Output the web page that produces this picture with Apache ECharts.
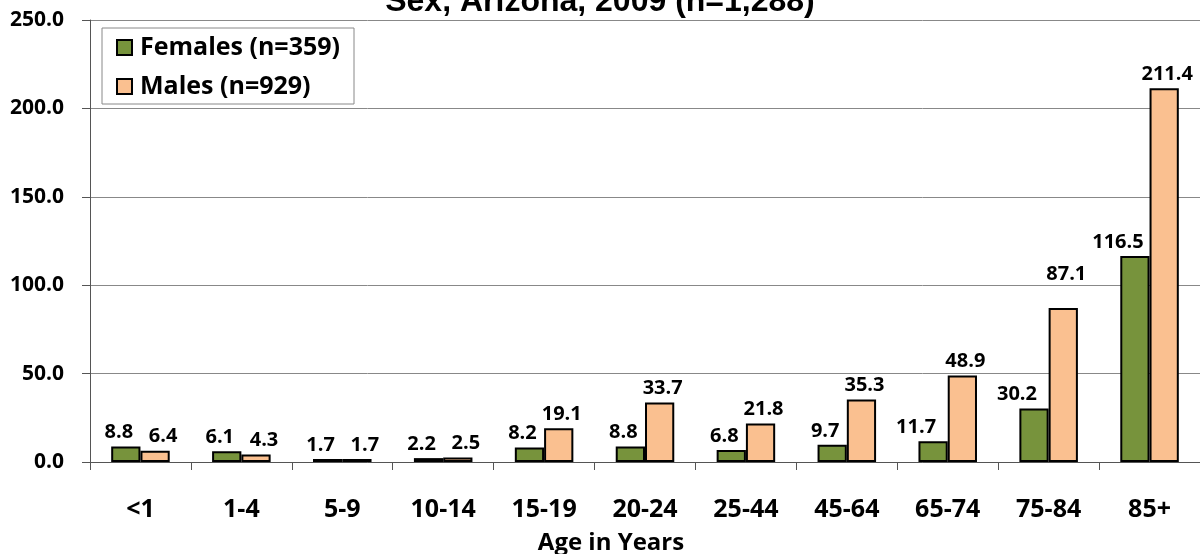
<!DOCTYPE html>
<html>
<head>
<meta charset="utf-8">
<script src="https://cdn.jsdelivr.net/npm/echarts@6/dist/echarts.min.js"></script>
<style>
html,body{margin:0;padding:0;background:#fff;}
#chart{width:1200px;height:554px;}
</style>
</head>
<body>
<div id="chart"></div>
<script>
// Age groups and rates per series
const ageGroups = ['<1', '1-4', '5-9', '10-14', '15-19', '20-24', '25-44', '45-64', '65-74', '75-84', '85+'];
const femaleRates = [8.8, 6.1, 1.7, 2.2, 8.2, 8.8, 6.8, 9.7, 11.7, 30.2, 116.5];
const maleRates = [6.4, 4.3, 1.7, 2.5, 19.1, 33.7, 21.8, 35.3, 48.9, 87.1, 211.4];
const seriesNames = ['Females (n=359)', 'Males (n=929)'];
const titleText = 'Sex, Arizona, 2009 (n=1,288)';
const xAxisTitle = 'Age in Years';

const labelFont = '"Open Sans", "Noto Sans", sans-serif';
const chart = echarts.init(document.getElementById('chart'));

function barLabel(dx) {
  return {
    show: true,
    position: 'top',
    distance: 4,
    offset: [dx, 0],
    color: '#000',
    fontFamily: labelFont,
    fontWeight: 'bold',
    fontSize: 20,
    formatter: p => p.value.toFixed(1)
  };
}

// value labels are nudged apart so neighbouring pairs never collide
const femaleItems = femaleRates.map((v, i) => ({
  value: v,
  label: { offset: [i >= 8 ? -17 : -7, 0] }
}));
const maleItems = maleRates.map((v, i) => ({
  value: v,
  label: { offset: [i < 4 ? 8 : 3, i === 9 ? -20 : 0] }
}));

chart.setOption({
  animation: false,
  backgroundColor: '#fff',
  title: {
    text: titleText,
    left: 'center',
    top: -19,
    textStyle: { fontFamily: '"Liberation Sans", Arial, sans-serif', fontWeight: 'bold', fontSize: 32, color: '#000' }
  },
  // axis title sits centred under the whole chart rather than the plot area
  graphic: [{
    type: 'text',
    x: 611,
    y: 543,
    style: {
      text: xAxisTitle,
      textAlign: 'center',
      textVerticalAlign: 'middle',
      fontFamily: labelFont,
      fontWeight: 'bold',
      fontSize: 24,
      fill: '#000'
    }
  }],
  legend: {
    orient: 'vertical',
    left: 102,
    top: 28,
    padding: [7, 14, 5, 14],
    itemGap: 14,
    itemWidth: 15,
    itemHeight: 15,
    backgroundColor: '#fff',
    borderColor: '#888',
    borderWidth: 1,
    textStyle: { fontFamily: labelFont, fontWeight: 'bold', fontSize: 25, color: '#000', padding: [0, 0, 0, 3] },
    data: seriesNames.map(n => ({ name: n, icon: 'rect' }))
  },
  grid: { left: 90, right: -4, top: 20, bottom: 92, containLabel: false },
  xAxis: {
    type: 'category',
    data: ageGroups,
    axisLine: { lineStyle: { color: '#555', width: 1 } },
    axisTick: { show: true, length: 8, lineStyle: { color: '#555' } },
    axisLabel: { margin: 35, fontFamily: labelFont, fontWeight: 'bold', fontSize: 25, color: '#000' }
  },
  yAxis: {
    type: 'value',
    min: 0,
    max: 250,
    interval: 50,
    axisLine: { show: true, lineStyle: { color: '#555', width: 1 } },
    axisTick: { show: true, length: 8, inside: false, lineStyle: { color: '#555' } },
    axisLabel: { margin: 26, fontFamily: labelFont, fontWeight: 'bold', fontSize: 21, color: '#000', formatter: v => v.toFixed(1) },
    splitLine: { lineStyle: { color: '#888', width: 1 } }
  },
  series: [
    {
      name: seriesNames[0],
      type: 'bar',
      data: femaleItems,
      barWidth: '29%',
      barGap: '0%',
      itemStyle: { color: '#77933C', borderColor: '#000', borderWidth: 2 },
      label: barLabel(-7)
    },
    {
      name: seriesNames[1],
      type: 'bar',
      data: maleItems,
      barWidth: '29%',
      barGap: '0%',
      itemStyle: { color: '#FAC090', borderColor: '#000', borderWidth: 2 },
      label: barLabel(5)
    }
  ]
});
</script>
</body>
</html>
